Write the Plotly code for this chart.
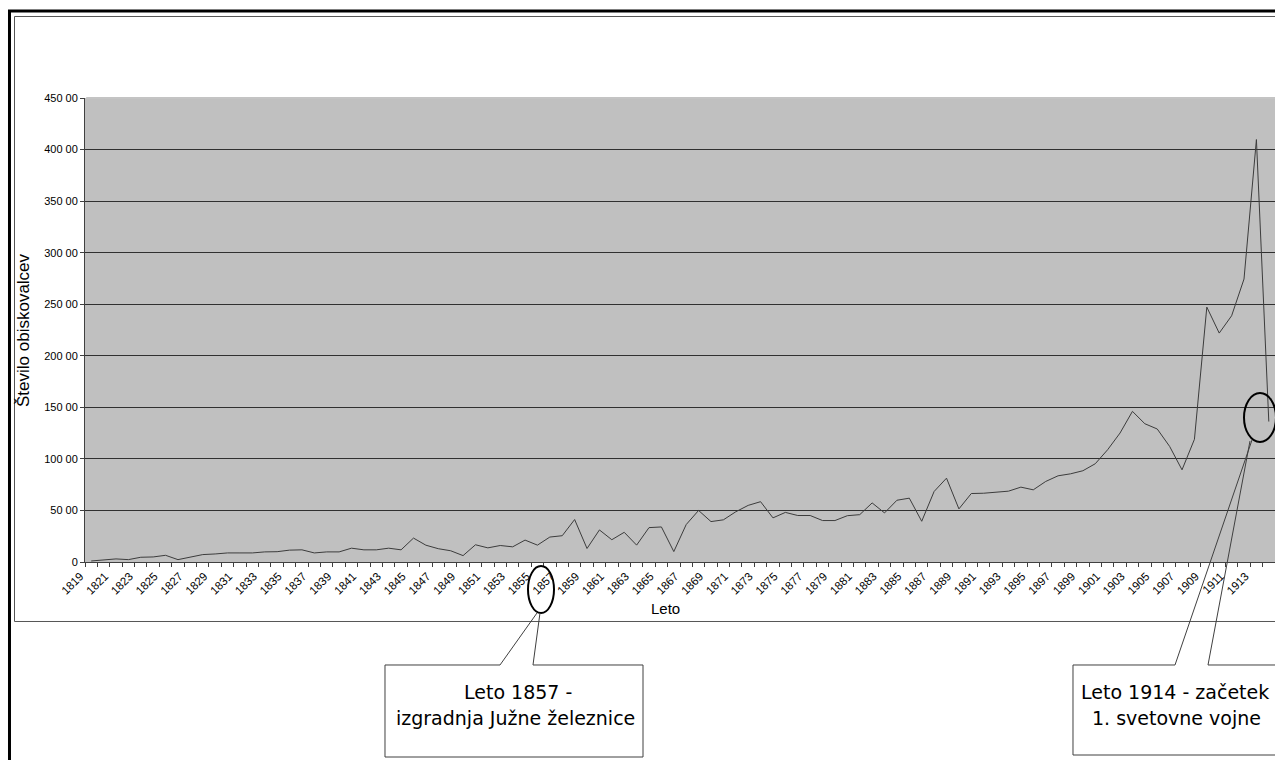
import plotly.graph_objects as go

# ---------------- data ----------------
years = list(range(1819, 1915))
visitors = [
    100, 230, 300, 230, 460, 490, 650, 230, 490, 720,      # 1819-1828
    780, 880, 880, 880, 980, 1000, 1150, 1180, 880, 980,   # 1829-1838
    980, 1340, 1180, 1180, 1340, 1180, 2320, 1630, 1290, 1090,  # 1839-1848
    620, 1670, 1370, 1600, 1470, 2125, 1635, 2420, 2550, 4120,  # 1849-1858
    1310, 3110, 2160, 2880, 1635, 3335, 3400, 1010, 3630, 5000, # 1859-1868
    3920, 4090, 4870, 5490, 5850, 4280, 4810, 4510, 4510, 4020, # 1869-1878
    4020, 4490, 4590, 5730, 4760, 5990, 6190, 3950, 6840, 8130, # 1879-1888
    5150, 6640, 6670, 6770, 6870, 7260, 7000, 7810, 8360, 8550, # 1889-1898
    8850, 9530, 10890, 12510, 14610, 13410, 12900, 11210, 8940, 11900,  # 1899-1908
    24720, 22200, 23880, 27440, 40970, 13620,              # 1909-1914
]
x_tick_years = list(range(1819, 1914, 2))
y_tick_vals = [0, 5000, 10000, 15000, 20000, 25000, 30000, 35000, 40000, 45000]
y_tick_text = ["0", "50 00", "100 00", "150 00", "200 00", "250 00",
               "300 00", "350 00", "400 00", "450 00"]

note_1857 = ["Leto 1857 -", "izgradnja Južne železnice"]
note_1914 = ["Leto 1914 - začetek", "1. svetovne vojne"]

# ---------------- layout geometry ----------------
W, H = 1275, 760
L, R, T, B = 85, 1275, 98, 562


def px(x):
    return (x - L) / (R - L)


def py(y):
    return (B - y) / (B - T)


def path(points_list):
    segs = []
    for pts in points_list:
        s = "M " + " L ".join(f"{px(a):.5f},{py(b):.5f}" for a, b in pts)
        segs.append(s)
    return " ".join(segs)


fig = go.Figure()
fig.add_trace(go.Scatter(
    x=years, y=visitors, mode="lines",
    line=dict(color="#3c3c3c", width=1),
    hoverinfo="x+y", showlegend=False,
))

axis_font = dict(family="Liberation Sans, Arial, sans-serif", size=11.5, color="#000")

fig.update_layout(
    width=W, height=H,
    margin=dict(l=L, r=W - R, t=T, b=H - B, pad=0),
    paper_bgcolor="white",
    plot_bgcolor="#C0C0C0",
    showlegend=False,
    xaxis=dict(
        range=[years[0] - 0.5, years[-1] + 0.5],
        tickmode="array", tickvals=x_tick_years,
        ticktext=[str(v) for v in x_tick_years],
        tickangle=-45, tickfont=axis_font,
        ticklabelshift=-11, ticklabelstandoff=2,
        ticks="outside", ticklen=0, tickcolor="#404040",
        minor=dict(tickmode="array",
                   tickvals=[years[0] - 0.5 + k for k in range(len(years) + 1)],
                   ticks="outside", ticklen=4, tickcolor="#404040", tickwidth=1,
                   showgrid=False),
        showgrid=False, zeroline=False,
        showline=True, linecolor="#404040", linewidth=1,
        fixedrange=True,
    ),
    yaxis=dict(
        range=[0, 45000],
        tickmode="array", tickvals=y_tick_vals, ticktext=y_tick_text,
        tickfont=dict(family="Liberation Sans, Arial, sans-serif", size=11, color="#000"),
        ticks="outside", ticklen=4, tickcolor="#404040",
        showgrid=True, gridcolor="#303030", gridwidth=1,
        zeroline=False,
        showline=True, linecolor="#404040", linewidth=1,
        fixedrange=True,
    ),
)

shapes = []
# hide the gridline at the very top of the plot area
shapes.append(dict(type="line", xref="paper", yref="paper", x0=0.001, x1=1, y0=1, y1=1,
                   line=dict(color="#C4C4C4", width=2), layer="above"))
# outer thick frame (left + top)
shapes.append(dict(type="path", xref="paper", yref="paper",
                   path=path([[(9.5, 770), (9.5, 11), (1290, 11)]]),
                   line=dict(color="black", width=3)))
# chart area thin frame
shapes.append(dict(type="path", xref="paper", yref="paper",
                   path=path([[(1290, 16.5), (14.5, 16.5), (14.5, 621.5), (1290, 621.5)]]),
                   line=dict(color="#555555", width=1)))
# ellipses
shapes.append(dict(type="circle", xref="paper", yref="paper",
                   x0=px(528), x1=px(554), y0=py(613), y1=py(566),
                   line=dict(color="black", width=2)))
shapes.append(dict(type="circle", xref="paper", yref="paper",
                   x0=px(1244), x1=px(1276), y0=py(442), y1=py(393),
                   line=dict(color="black", width=2)))
# callout 1857
shapes.append(dict(type="path", xref="paper", yref="paper",
                   path=path([
                       [(500, 665), (385, 665), (385, 757), (643, 757), (643, 665), (533, 665), (540, 613)],
                       [(500, 665), (537, 613)],
                   ]),
                   line=dict(color="#404040", width=1)))
# callout 1914
shapes.append(dict(type="path", xref="paper", yref="paper",
                   path=path([
                       [(1175, 665), (1073, 665), (1073, 755), (1290, 755)],
                       [(1208, 665), (1290, 665)],
                       [(1175, 665), (1252, 440)],
                       [(1208, 665), (1250, 441)],
                   ]),
                   line=dict(color="#404040", width=1)))
fig.update_layout(shapes=shapes)

note_font = dict(family="DejaVu Sans, sans-serif", size=19, color="#000")
ann = []
ann.append(dict(x=px(518), y=py(692), xref="paper", yref="paper", text=note_1857[0],
                showarrow=False, font=note_font, xanchor="center", yanchor="middle"))
ann.append(dict(x=px(515), y=py(718), xref="paper", yref="paper", text=note_1857[1],
                showarrow=False, font=note_font, xanchor="center", yanchor="middle"))
ann.append(dict(x=px(1175), y=py(692), xref="paper", yref="paper", text=note_1914[0],
                showarrow=False, font=note_font, xanchor="center", yanchor="middle"))
ann.append(dict(x=px(1176), y=py(718), xref="paper", yref="paper", text=note_1914[1],
                showarrow=False, font=note_font, xanchor="center", yanchor="middle"))
# axis titles
ann.append(dict(x=px(23), y=py(330), xref="paper", yref="paper", text="Število obiskovalcev",
                textangle=-90, showarrow=False,
                font=dict(family="Liberation Sans, Arial, sans-serif", size=17, color="#000"),
                xanchor="center", yanchor="middle"))
ann.append(dict(x=px(665), y=py(608), xref="paper", yref="paper", text="Leto",
                showarrow=False,
                font=dict(family="Liberation Sans, Arial, sans-serif", size=15, color="#000"),
                xanchor="center", yanchor="middle"))
fig.update_layout(annotations=ann)

fig.write_html(
    "out.html",
    config=dict(displayModeBar=False),
    post_script="document.body.style.margin='0';document.body.style.overflow='hidden';",
)
